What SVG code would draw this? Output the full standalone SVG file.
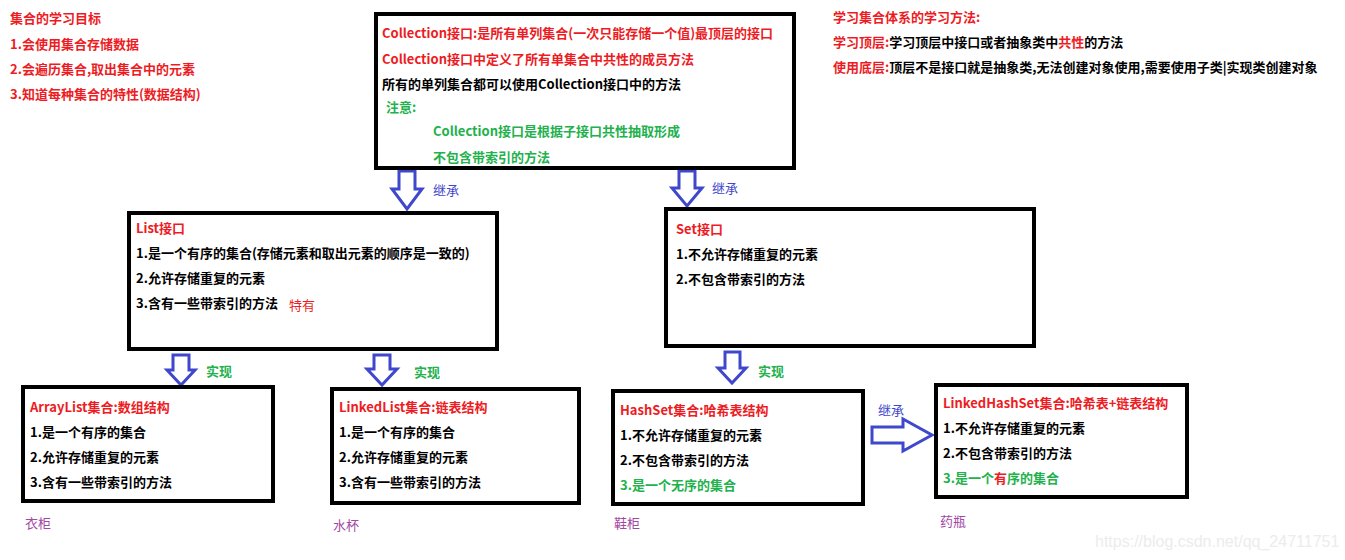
<svg xmlns="http://www.w3.org/2000/svg" width="1345" height="560" viewBox="0 0 1345 560">
<style>
text{font-family:"Microsoft YaHei","Noto Sans CJK SC","Noto Sans",sans-serif;font-size:13px;font-weight:bold;fill:#000}
.r{fill:#ed1c24}
.g{fill:#22b14c}
.b{fill:#3f48cc;font-weight:normal}
.p{fill:#a349a4;font-weight:normal}
.box{fill:#fff;stroke:#000;stroke-width:4}
.arr{fill:#fff;stroke:#3f48cc;stroke-width:3;stroke-linejoin:miter}
.wm{font-family:"Liberation Sans",Arial,sans-serif;font-size:16px;font-weight:normal;fill:#ececec}
</style>
<rect width="1345" height="560" fill="#fff"/>

<g id="goals">
<text x="10" y="23" class="r">集合的学习目标</text>
<text x="10" y="49" class="r">1.会使用集合存储数据</text>
<text x="10" y="74" class="r">2.会遍历集合,取出集合中的元素</text>
<text x="10" y="99" class="r">3.知道每种集合的特性(数据结构)</text>
</g>

<g id="method">
<text x="833" y="22" class="r">学习集合体系的学习方法:</text>
<text x="833" y="47"><tspan class="r">学习顶层:</tspan>学习顶层中接口或者抽象类中<tspan class="r">共性</tspan>的方法</text>
<text x="833" y="72"><tspan class="r">使用底层:</tspan>顶层不是接口就是抽象类,无法创建对象使用,需要使用子类|实现类创建对象</text>
</g>

<g id="connectors">
<path class="arr" d="M399,171 L415,171 L415,189 L422,189 L407,209 L392,189 L399,189 Z"/>
<text x="433" y="195" class="b">继承</text>
<path class="arr" d="M679,171 L695,171 L695,188 L702,188 L687,206 L672,188 L679,188 Z"/>
<text x="712" y="193" class="b">继承</text>
<path class="arr" d="M173,355 L189,355 L189,370 L195,370 L181,385 L167,370 L173,370 Z"/>
<text x="206" y="376" class="g">实现</text>
<path class="arr" d="M374,355 L390,355 L390,369 L397,369 L382,385 L367,369 L374,369 Z"/>
<text x="414" y="377" class="g">实现</text>
<path class="arr" d="M725,352 L740,352 L740,368 L746,368 L732,383 L718,368 L725,368 Z"/>
<text x="758" y="376" class="g">实现</text>
<path class="arr" d="M872,427 L903,427 L903,419 L932,435 L903,451 L903,443 L872,443 Z"/>
<text x="878" y="415" class="b">继承</text>
</g>

<g id="collection">
<rect class="box" x="376" y="14" width="418" height="154"/>
<text x="382" y="38" class="r">Collection接口:是所有单列集合(一次只能存储一个值)最顶层的接口</text>
<text x="382" y="64" class="r">Collection接口中定义了所有单集合中共性的成员方法</text>
<text x="382" y="89">所有的单列集合都可以使用Collection接口中的方法</text>
<text x="386" y="112" class="g">注意:</text>
<text x="433" y="136" class="g">Collection接口是根据子接口共性抽取形成</text>
<text x="433" y="162" class="g">不包含带索引的方法</text>
</g>

<g id="list">
<rect class="box" x="129" y="213" width="368" height="136"/>
<text x="136" y="233" class="r">List接口</text>
<text x="136" y="258">1.是一个有序的集合(存储元素和取出元素的顺序是一致的)</text>
<text x="136" y="283">2.允许存储重复的元素</text>
<text x="136" y="308">3.含有一些带索引的方法</text>
<text x="289" y="310" class="r" style="font-weight:normal">特有</text>
</g>

<g id="set">
<rect class="box" x="666" y="209" width="368" height="137"/>
<text x="676" y="234" class="r">Set接口</text>
<text x="676" y="259">1.不允许存储重复的元素</text>
<text x="676" y="284">2.不包含带索引的方法</text>
</g>

<g id="arraylist">
<rect class="box" x="23" y="387" width="250" height="114"/>
<text x="30" y="412" class="r">ArrayList集合:数组结构</text>
<text x="30" y="437">1.是一个有序的集合</text>
<text x="30" y="462">2.允许存储重复的元素</text>
<text x="30" y="487">3.含有一些带索引的方法</text>
<text x="25" y="528" class="p">衣柜</text>
</g>

<g id="linkedlist">
<rect class="box" x="332" y="389" width="247" height="114"/>
<text x="339" y="412" class="r">LinkedList集合:链表结构</text>
<text x="339" y="437">1.是一个有序的集合</text>
<text x="339" y="462">2.允许存储重复的元素</text>
<text x="339" y="487">3.含有一些带索引的方法</text>
<text x="333" y="530" class="p">水杯</text>
</g>

<g id="hashset">
<rect class="box" x="613" y="391" width="250" height="113"/>
<text x="620" y="415" class="r">HashSet集合:哈希表结构</text>
<text x="620" y="440">1.不允许存储重复的元素</text>
<text x="620" y="465">2.不包含带索引的方法</text>
<text x="620" y="490" class="g">3.是一个无序的集合</text>
<text x="614" y="528" class="p">鞋柜</text>
</g>

<g id="linkedhashset">
<rect class="box" x="936" y="385" width="251" height="112"/>
<text x="943" y="408" class="r">LinkedHashSet集合:哈希表+链表结构</text>
<text x="943" y="433">1.不允许存储重复的元素</text>
<text x="943" y="458">2.不包含带索引的方法</text>
<text x="943" y="483" class="g">3.是一个<tspan class="r">有</tspan>序的集合</text>
<text x="940" y="526" class="p">药瓶</text>
</g>

<text x="1095" y="547" class="wm">https://blog.csdn.net/qq_24711751</text>
</svg>
